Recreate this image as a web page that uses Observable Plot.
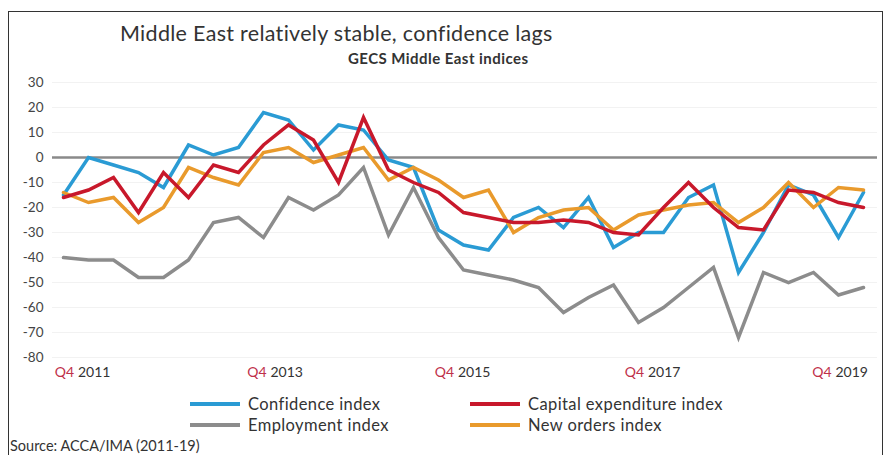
<!DOCTYPE html>
<html>
<head>
<meta charset="utf-8">
<script src="https://cdn.jsdelivr.net/npm/d3@7"></script>
<script src="https://cdn.jsdelivr.net/npm/@observablehq/plot@0.6"></script>
<style>
  html, body { margin: 0; padding: 0; background: #fff; }
  #wrap { position: relative; width: 884px; height: 455px; overflow: hidden; font-family: Lato, "Open Sans", sans-serif; color: #333; }
  #border { position: absolute; left: 8px; top: 11px; width: 875px; height: 460px; border: 1px solid #333; box-sizing: border-box; }
  #title { position: absolute; left: 120px; top: 19px; font-size: 21.5px; letter-spacing: 0.3px; line-height: 28px; color: #333; white-space: nowrap; }
  #subtitle { position: absolute; left: 348px; top: 49px; font-size: 15px; letter-spacing: 0.45px; line-height: 18px; font-weight: bold; color: #333; white-space: nowrap; }
  #chart { position: absolute; left: 0; top: 70px; }
  .leg { position: absolute; font-size: 16.5px; letter-spacing: 0.4px; line-height: 20px; color: #333; white-space: nowrap; }
  .sw { position: absolute; width: 50px; height: 4px; }
  #source { position: absolute; left: 10px; top: 437px; font-size: 14.5px; line-height: 18px; color: #333; white-space: nowrap; }
</style>
</head>
<body>
<div id="wrap">
  <div id="border"></div>
  <div id="title">Middle East relatively stable, confidence lags</div>
  <div id="subtitle">GECS Middle East indices</div>
  <div id="chart"></div>
  <div id="legend"></div>
  <div id="source">Source: ACCA/IMA (2011-19)</div>
</div>
<script>
// Quarter index 0 = Q4 2011 ... 32 = Q4 2019
const confidence = [-15, 0, -3, -6, -12, 5, 1, 4, 18, 15, 3, 13, 11, -1, -4, -29, -35, -37, -24, -20, -28, -16, -36, -30, -30, -16, -11, -46, -30, -11, -15, -32, -14];
const capex      = [-16, -13, -8, -22, -6, -16, -3, -6, 5, 13, 7, -10, 16, -5, -10, -14, -22, -24, -26, -26, -25, -26, -30, -31, -20, -10, -20, -28, -29, -13, -14, -18, -20];
const employment = [-40, -41, -41, -48, -48, -41, -26, -24, -32, -16, -21, -15, -4, -31, -12, -32, -45, -47, -49, -52, -62, -56, -51, -66, -60, -52, -44, -72, -46, -50, -46, -55, -52];
const newOrders  = [-14, -18, -16, -26, -20, -4, -8, -11, 2, 4, -2, 1, 4, -9, -4, -9, -16, -13, -30, -24, -21, -20, -29, -23, -21, -19, -18, -26, -20, -10, -20, -12, -13];

const seriesNames = ["Confidence index", "Capital expenditure index", "Employment index", "New orders index"];
const seriesColors = ["#2a9bd4", "#c8182b", "#8c8c8c", "#e99a2c"];
const yTicks = [30, 20, 10, 0, -10, -20, -30, -40, -50, -60, -70, -80];
// category-axis label positions (quarter index where each label sits)
const xTickPos = [0.5, 8.2, 15.7, 23.3, 30.8];
const xTickQuarter = ["Q4", "Q4", "Q4", "Q4", "Q4"];
const xTickYear = ["2011", "2013", "2015", "2017", "2019"];

const seriesValues = [confidence, capex, employment, newOrders];
const rows = seriesValues.flatMap((vals, s) => vals.map((v, i) => ({i, v, s: seriesNames[s]})));
const ticks = xTickPos.map((i, k) => ({i, q: xTickQuarter[k], yr: xTickYear[k]}));
const drawOrder = ["Employment index", "Confidence index", "New orders index", "Capital expenditure index"];

const chart = Plot.plot({
  width: 884,
  height: 310,
  marginLeft: 63,
  marginRight: 21,
  marginTop: 12,
  marginBottom: 23,
  style: { fontFamily: "Lato, 'Open Sans', sans-serif", background: "transparent", overflow: "visible" },
  x: { domain: [0, 32], axis: null },
  y: { domain: [-80, 30], axis: null },
  marks: [
    Plot.ruleY(yTicks.filter(d => d !== 0), { stroke: "#f2f2f2", strokeWidth: 1, insetLeft: -11, insetRight: -14 }),
    Plot.axisY({ ticks: yTicks, label: null, tickSize: 0, tickPadding: 20, fontSize: 13.5, fill: "#444", tickFormat: d => String(d) }),
    Plot.ruleY([0], { stroke: "#8a8a8a", strokeWidth: 2.5, insetLeft: -11, insetRight: -14 }),
    ...drawOrder.map(name => Plot.line(rows.filter(r => r.s === name), {
      x: "i", y: "v", stroke: seriesColors[seriesNames.indexOf(name)], strokeWidth: 3.5, strokeLinejoin: "miter", strokeMiterlimit: 3
    })),
    Plot.text(ticks, { x: "i", text: "q", frameAnchor: "bottom", dy: 19, dx: -2, textAnchor: "end", fill: "#c0304a", fontSize: 14 }),
    Plot.text(ticks, { x: "i", text: "yr", frameAnchor: "bottom", dy: 19, dx: 2, textAnchor: "start", fill: "#333", fontSize: 14, letterSpacing: 0.3 })
  ]
});
document.getElementById("chart").appendChild(chart);

// Legend (HTML, below the SVG)
const legend = document.getElementById("legend");
const legPos = [
  {x: 190, y: 404}, {x: 470, y: 404},
  {x: 190, y: 425}, {x: 470, y: 425}
];
seriesNames.forEach((name, k) => {
  const p = legPos[k];
  const sw = document.createElement("div");
  sw.className = "sw";
  sw.style.left = p.x + "px";
  sw.style.top = (p.y - 2) + "px";
  sw.style.background = seriesColors[k];
  legend.appendChild(sw);
  const t = document.createElement("div");
  t.className = "leg";
  t.style.left = (p.x + 58) + "px";
  t.style.top = (p.y - 10) + "px";
  t.textContent = name;
  legend.appendChild(t);
});
</script>
</body>
</html>
